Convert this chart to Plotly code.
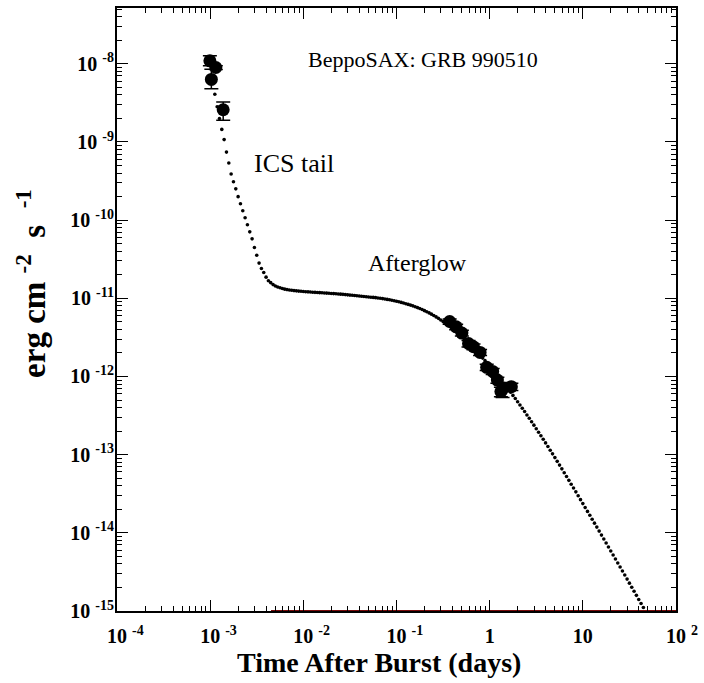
import plotly.graph_objects as go

# ---------------- data ----------------
# BeppoSAX prompt/ICS-tail points (days, erg cm^-2 s^-1)
early_t = [9.93e-4, 1.15e-3, 1.03e-3, 1.38e-3]
early_f = [1.09e-8, 8.95e-9, 6.3e-9, 2.58e-9]
early_err_plus = [0.18e-8, 0.05e-8, 2.2e-9, 0.65e-9]
early_err_minus = [0.15e-8, 0.05e-8, 1.5e-9, 0.68e-9]

# afterglow points
ag_t = [0.372, 0.437, 0.503, 0.593, 0.671, 0.789, 0.929, 1.077, 1.21, 1.32, 1.375, 1.71]
ag_f = [5.05e-12, 4.31e-12, 3.59e-12, 2.64e-12, 2.4e-12, 2.03e-12, 1.31e-12, 1.16e-12,
        9.0e-13, 6.4e-13, 6.9e-13, 7.4e-13]
ag_err = [0.4e-12, 0.35e-12, 0.3e-12, 0.25e-12, 0.2e-12, 0.18e-12, 0.12e-12, 0.1e-12,
          0.8e-13, 0.9e-13, 1.5e-13, 0.8e-13]

# model curve (log10 days, log10 flux)
model_logt = [
    -3.000, -2.975, -2.950, -2.925, -2.900, -2.875, -2.850, -2.825, -2.800, -2.775,
    -2.750, -2.725, -2.700, -2.675, -2.650, -2.625, -2.600, -2.575, -2.550, -2.525,
    -2.500, -2.475, -2.450, -2.425, -2.400, -2.375, -2.350, -2.325, -2.300, -2.275,
    -2.250, -2.225, -2.200, -2.175, -2.150, -2.125, -2.100, -2.075, -2.050, -2.025,
    -2.000, -1.975, -1.950, -1.925, -1.900, -1.875, -1.850, -1.825, -1.800, -1.775,
    -1.750, -1.725, -1.700, -1.675, -1.650, -1.625, -1.600, -1.575, -1.550, -1.525,
    -1.500, -1.475, -1.450, -1.425, -1.400, -1.375, -1.350, -1.325, -1.300, -1.275,
    -1.250, -1.225, -1.200, -1.175, -1.150, -1.125, -1.100, -1.075, -1.050, -1.025,
    -1.000, -0.975, -0.950, -0.925, -0.900, -0.875, -0.850, -0.825, -0.800, -0.775,
    -0.750, -0.725, -0.700, -0.675, -0.650, -0.625, -0.600, -0.575, -0.550, -0.525,
    -0.500, -0.475, -0.450, -0.425, -0.400, -0.375, -0.350, -0.325, -0.300, -0.275,
    -0.250, -0.225, -0.200, -0.175, -0.150, -0.125, -0.100, -0.075, -0.050, -0.025,
    0.000, 0.025, 0.050, 0.075, 0.100, 0.125, 0.150, 0.175, 0.200, 0.225,
    0.250, 0.275, 0.300, 0.325, 0.350, 0.375, 0.400, 0.425, 0.450, 0.475,
    0.500, 0.525, 0.550, 0.575, 0.600, 0.625, 0.650, 0.675, 0.700, 0.725,
    0.750, 0.775, 0.800, 0.825, 0.850, 0.875, 0.900, 0.925, 0.950, 0.975,
    1.000, 1.025, 1.050, 1.075, 1.100, 1.125, 1.150, 1.175, 1.200, 1.225,
    1.250, 1.275, 1.300, 1.325, 1.350, 1.375, 1.400, 1.425, 1.450, 1.475,
    1.500, 1.525, 1.550, 1.575, 1.600, 1.625, 1.650,
]
model_logf = [
    -7.980, -8.170, -8.390, -8.550, -8.700, -8.840, -8.970, -9.130, -9.270, -9.410,
    -9.510, -9.600, -9.700, -9.790, -9.880, -9.970, -10.060, -10.150, -10.240, -10.350,
    -10.450, -10.550, -10.620, -10.670, -10.730, -10.775, -10.800, -10.825, -10.842, -10.855,
    -10.866, -10.875, -10.883, -10.889, -10.894, -10.898, -10.902, -10.905, -10.908, -10.911,
    -10.914, -10.916, -10.918, -10.920, -10.922, -10.924, -10.926, -10.928, -10.930, -10.932,
    -10.934, -10.936, -10.938, -10.940, -10.942, -10.945, -10.947, -10.950, -10.953, -10.956,
    -10.959, -10.962, -10.965, -10.968, -10.971, -10.974, -10.977, -10.980, -10.983, -10.986,
    -10.989, -10.992, -10.996, -11.000, -11.004, -11.009, -11.014, -11.019, -11.025, -11.031,
    -11.038, -11.045, -11.053, -11.061, -11.069, -11.078, -11.087, -11.097, -11.108, -11.119,
    -11.131, -11.144, -11.158, -11.172, -11.187, -11.203, -11.220, -11.238, -11.257, -11.277,
    -11.298, -11.320, -11.342, -11.365, -11.389, -11.413, -11.438, -11.464, -11.491, -11.519,
    -11.547, -11.576, -11.606, -11.636, -11.667, -11.699, -11.732, -11.765, -11.798, -11.832,
    -11.867, -11.902, -11.938, -11.974, -12.011, -12.048, -12.086, -12.124, -12.163, -12.202,
    -12.242, -12.282, -12.323, -12.365, -12.407, -12.449, -12.492, -12.535, -12.579, -12.623,
    -12.668, -12.713, -12.758, -12.804, -12.850, -12.896, -12.943, -12.990, -13.038, -13.086,
    -13.134, -13.182, -13.231, -13.280, -13.329, -13.378, -13.427, -13.476, -13.526, -13.576,
    -13.626, -13.676, -13.726, -13.776, -13.826, -13.876, -13.927, -13.978, -14.029, -14.080,
    -14.131, -14.182, -14.233, -14.284, -14.335, -14.386, -14.437, -14.488, -14.540, -14.592,
    -14.644, -14.696, -14.748, -14.800, -14.852, -14.904, -14.956,
]

# second (dark red) model lying at the bottom of the frame
red_t = [4.5e-3, 100.0]
red_f = [1e-15, 1e-15]

# tick labels
x_tick_vals = [1e-4, 1e-3, 1e-2, 1e-1, 1, 10, 100]
x_tick_exp = ["-4", "-3", "-2", "-1", None, None, "2"]
x_tick_base = ["10", "10", "10", "10", "1", "10", "10"]
y_tick_vals = [1e-15, 1e-14, 1e-13, 1e-12, 1e-11, 1e-10, 1e-9, 1e-8]
y_tick_exp = ["-15", "-14", "-13", "-12", "-11", "-10", "-9", "-8"]

# ---------------- figure ----------------
SERIF = "Liberation Serif, Times New Roman, serif"

model_t = [10 ** v for v in model_logt]
model_f = [10 ** v for v in model_logf]

x_minor = [k * 10 ** d for d in range(-4, 2) for k in range(2, 10)]
y_minor = [k * 10 ** d for d in range(-15, -7) for k in range(2, 10)]


def x_label(base, exp):
    if exp is None:
        return base
    # invisible copy of the exponent on the left keeps the base centred on the tick
    return ("<span style='color:white'><sup>%s</sup> </span>%s <sup>%s</sup>"
            % (exp, base, exp))


x_tick_text = [x_label(b, e) for b, e in zip(x_tick_base, x_tick_exp)]
y_tick_text = ["10 <sup>%s</sup>" % e for e in y_tick_exp]

fig = go.Figure()

fig.add_trace(go.Scatter(x=red_t, y=red_f, mode="lines",
                         line=dict(color="#7a0a0a", width=2), cliponaxis=False,
                         hoverinfo="skip", showlegend=False))

fig.add_trace(go.Scatter(x=model_t, y=model_f, mode="markers",
                         marker=dict(color="black", size=3.6),
                         showlegend=False))

fig.add_trace(go.Scatter(x=early_t, y=early_f, mode="markers",
                         marker=dict(color="black", size=13),
                         error_y=dict(type="data", array=early_err_plus,
                                      arrayminus=early_err_minus, color="black",
                                      thickness=1.5, width=7),
                         showlegend=False))

fig.add_trace(go.Scatter(x=ag_t, y=ag_f, mode="markers",
                         marker=dict(color="black", size=13),
                         error_y=dict(type="data", array=ag_err, color="black",
                                      thickness=1.5, width=7),
                         showlegend=False))

axis_common = dict(
    type="log",
    showgrid=False,
    zeroline=False,
    showline=True,
    linecolor="black",
    linewidth=2,
    mirror="ticks",
    ticks="inside",
    ticklen=11,
    tickwidth=1.2,
    tickcolor="black",
    tickmode="array",
    tickfont=dict(family=SERIF, size=20, color="black", weight="bold"),
)

fig.update_xaxes(**axis_common, range=[-4, 2], tickvals=x_tick_vals, ticktext=x_tick_text,
                 ticklabelstandoff=6,
                 minor=dict(tickmode="array", tickvals=x_minor, ticks="inside",
                            ticklen=5, tickwidth=1, tickcolor="black"))
fig.update_yaxes(**axis_common, range=[-15, -7.287], tickvals=y_tick_vals, ticktext=y_tick_text,
                 ticklabelstandoff=-3,
                 minor=dict(tickmode="array", tickvals=y_minor, ticks="inside",
                            ticklen=5, tickwidth=1, tickcolor="black"))

annotations = [
    dict(text="BeppoSAX: GRB 990510", x=0.548, y=0.914, xref="paper", yref="paper",
         xanchor="center", yanchor="middle",
         showarrow=False, font=dict(family=SERIF, size=22, color="black")),
    dict(text="ICS tail", x=0.317, y=0.742, xref="paper", yref="paper",
         xanchor="center", yanchor="middle",
         showarrow=False, font=dict(family=SERIF, size=26, color="black")),
    dict(text="Afterglow", x=0.537, y=0.577, xref="paper", yref="paper",
         xanchor="center", yanchor="middle",
         showarrow=False, font=dict(family=SERIF, size=24, color="black")),
    dict(text="<b>Time After Burst (days)</b>", x=0.468, y=-0.085, xref="paper", yref="paper",
         xanchor="center", yanchor="middle",
         showarrow=False, font=dict(family=SERIF, size=28, color="black")),
    dict(text="<b>erg cm&nbsp;<sup>-2</sup>&nbsp;&nbsp;s&nbsp;&nbsp;<sup>-1</sup></b>",
         x=-0.154, y=0.544,
         xref="paper", yref="paper", textangle=-90,
         xanchor="center", yanchor="middle",
         showarrow=False, font=dict(family=SERIF, size=33, color="black")),
]

fig.update_layout(
    width=704, height=683,
    margin=dict(l=117, r=23, t=6, b=72),
    paper_bgcolor="white", plot_bgcolor="white",
    annotations=annotations,
    showlegend=False,
)

fig.write_html("out.html")
